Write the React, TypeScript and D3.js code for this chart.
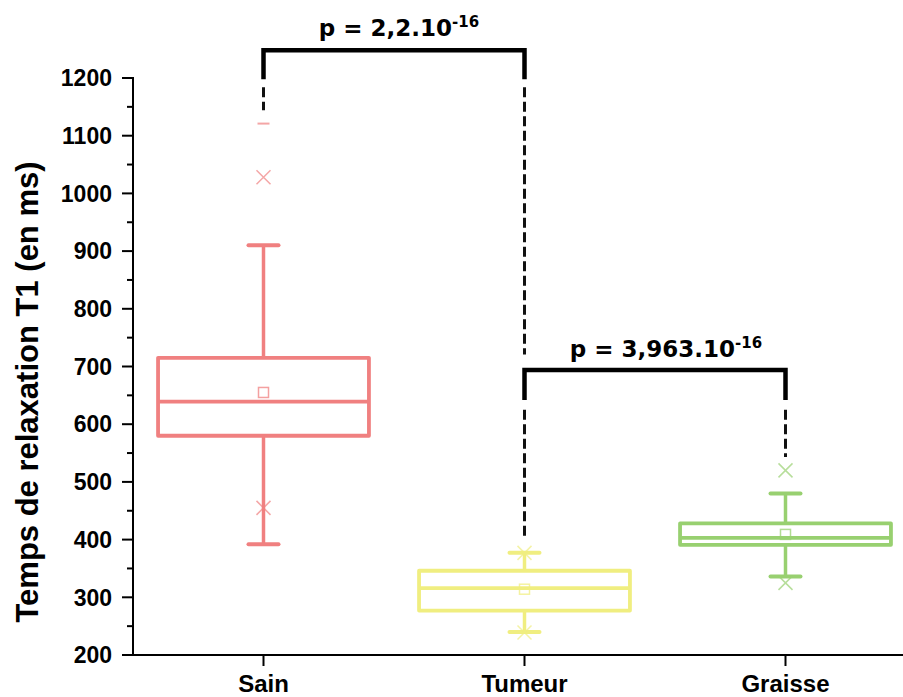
import React from "react";
import * as d3 from "d3";

const categories = ["Sain", "Tumeur", "Graisse"];
const q1 = [580, 277, 391];
const median = [639, 316, 403];
const q3 = [715, 346, 428];
const whiskerLow = [392, 240, 336];
const whiskerHigh = [910, 377, 480];
const means = [655, 314, 409];
const pct1 = [455, 239, 325];
const pct99 = [1028, 377, 520];
const maxDash = [1121, null, null];
const colors = ["#F08080", "#F0EE80", "#98D070"];
const yTicks = [200, 300, 400, 500, 600, 700, 800, 900, 1000, 1100, 1200];
const yMinorTicks = [250, 350, 450, 550, 650, 750, 850, 950, 1050, 1150];

// significance brackets
const brackets = [
  { a: 0, b: 1, bar: 1248, leg: 1198, base: "p = 2,2.10", sup: "-16", labelY: 1273, dx: 5 },
  { a: 1, b: 2, bar: 694, leg: 642, base: "p = 3,963.10", sup: "-16", labelY: 717, dx: 11 },
];
// dashed connectors: [category index, from value, to value]
const connectors = [
  [0, 1184, 1144],
  [1, 1184, 721],
  [1, 625, 403],
  [2, 625, 543],
];

export default function App() {
  const W = 903, H = 697;
  const x = d3.scaleLinear().domain([0.5, 3.5]).range([133, 916]);
  const y = d3.scaleLinear().domain([200, 1200]).range([655, 78]);
  const boxW = x(1.404) - x(0.596);
  const capW = 30;
  const font = "'Liberation Sans', Arial, sans-serif";
  const pFont = "'DejaVu Sans', Verdana, sans-serif";

  return (
    <svg width={W} height={H} style={{ position: "absolute", left: 0, top: 0, background: "#fff" }}>
      {connectors.map(([i, v0, v1], k) => (
        <line key={"c" + k} x1={x(i + 1)} x2={x(i + 1)} y1={y(v0)} y2={y(v1)}
          stroke="#111" strokeWidth={3} strokeDasharray="10,4.5" />
      ))}
      {brackets.map((b, k) => {
        const xa = x(b.a + 1), xb = x(b.b + 1);
        return (
          <g key={"b" + k}>
            <path d={`M${xa},${y(b.leg)}V${y(b.bar)}H${xb}V${y(b.leg)}`} fill="none" stroke="#000" strokeWidth={4.5} />
            <text x={(xa + xb) / 2 + b.dx} y={y(b.labelY)} textAnchor="middle" fontFamily={pFont}
              fontWeight="bold" fontSize={23} fill="#000">
              {b.base}
              <tspan fontSize={15} dy={-9}>{b.sup}</tspan>
            </text>
          </g>
        );
      })}
      {categories.map((c, i) => {
        const cx = x(i + 1);
        const col = colors[i];
        const m = 7;
        return (
          <g key={c}>
            <line x1={cx} x2={cx} y1={y(q3[i])} y2={y(whiskerHigh[i])} stroke={col} strokeWidth={3.5} />
            <line x1={cx} x2={cx} y1={y(q1[i])} y2={y(whiskerLow[i])} stroke={col} strokeWidth={3.5} />
            <line x1={cx - capW / 2} x2={cx + capW / 2} y1={y(whiskerHigh[i])} y2={y(whiskerHigh[i])} stroke={col} strokeWidth={4} strokeLinecap="round" />
            <line x1={cx - capW / 2} x2={cx + capW / 2} y1={y(whiskerLow[i])} y2={y(whiskerLow[i])} stroke={col} strokeWidth={4} strokeLinecap="round" />
            <rect x={cx - boxW / 2} y={y(q3[i])} width={boxW} height={y(q1[i]) - y(q3[i])} fill="none" stroke={col} strokeWidth={3.8} strokeLinejoin="round" />
            <line x1={cx - boxW / 2} x2={cx + boxW / 2} y1={y(median[i])} y2={y(median[i])} stroke={col} strokeWidth={3.8} />
            <rect x={cx - 5} y={y(means[i]) - 5} width={10} height={10} fill="none" stroke={col} strokeOpacity={0.75} strokeWidth={1.5} />
            {[pct1[i], pct99[i]].map((v, k) => (
              <path key={k} d={`M${cx - m},${y(v) - m}L${cx + m},${y(v) + m}M${cx - m},${y(v) + m}L${cx + m},${y(v) - m}`}
                stroke={col} strokeOpacity={0.7} strokeWidth={1.5} fill="none" />
            ))}
            {maxDash[i] != null && (
              <line x1={cx - 6} x2={cx + 6} y1={y(maxDash[i] as number)} y2={y(maxDash[i] as number)} stroke={col} strokeOpacity={0.7} strokeWidth={2} />
            )}
          </g>
        );
      })}
      <line x1={133} x2={133} y1={y(1200) - 1} y2={y(200) + 1} stroke="#000" strokeWidth={2} />
      {yTicks.map((t) => (
        <g key={"t" + t}>
          <line x1={122} x2={133} y1={y(t)} y2={y(t)} stroke="#000" strokeWidth={2} />
          <text x={112} y={y(t)} dy="0.36em" textAnchor="end" fontFamily={font} fontWeight="bold" fontSize={23} fill="#000">{t}</text>
        </g>
      ))}
      {yMinorTicks.map((t) => (
        <line key={"m" + t} x1={127} x2={133} y1={y(t)} y2={y(t)} stroke="#000" strokeWidth={2} />
      ))}
      <line x1={132} x2={W} y1={y(200)} y2={y(200)} stroke="#000" strokeWidth={2} />
      {categories.map((c, i) => (
        <g key={"x" + c}>
          <line x1={x(i + 1)} x2={x(i + 1)} y1={y(200)} y2={y(200) + 11} stroke="#000" strokeWidth={2} />
          <text x={x(i + 1)} y={692} textAnchor="middle" fontFamily={font} fontWeight="bold" fontSize={24} fill="#000">{c}</text>
        </g>
      ))}
      <text transform={`translate(38,392) rotate(-90)`} textAnchor="middle" fontFamily={font} fontWeight="bold" fontSize={31} fill="#000">
        Temps de relaxation T1 (en ms)
      </text>
    </svg>
  );
}
